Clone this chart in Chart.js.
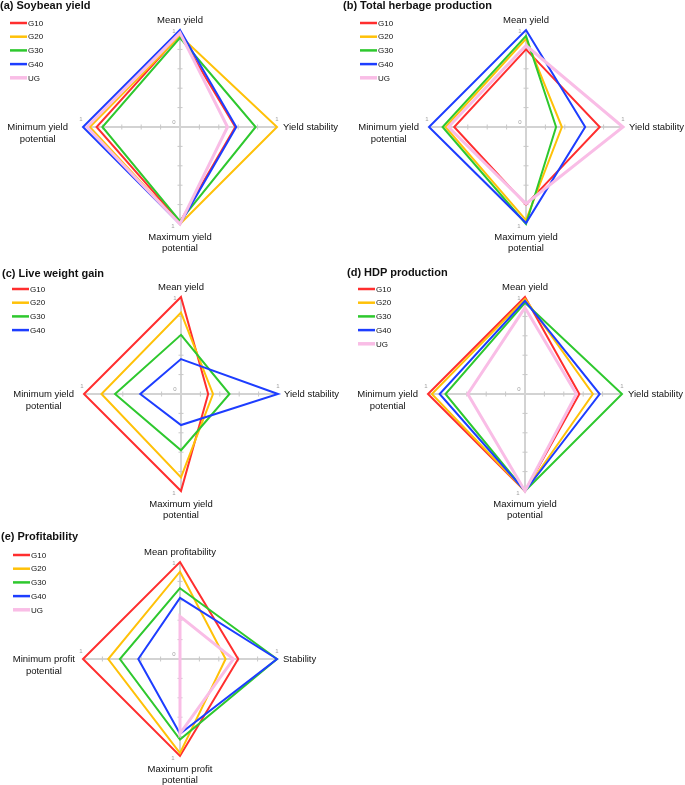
<!DOCTYPE html>
<html>
<head>
<meta charset="utf-8">
<script src="https://cdn.jsdelivr.net/npm/chart.js@4.4.1/dist/chart.umd.min.js"></script>
<style>
  body { margin: 0; background: #fff; }
  #wrap { position: relative; width: 685px; height: 785px; font-family: "Liberation Sans", Arial, sans-serif; overflow: hidden; }
  .panel { position: absolute; }
  .panel canvas { position: absolute; left: 0; top: 0; }
  .title { position: absolute; font-weight: bold; font-size: 11px; line-height: 12px; white-space: nowrap; color: #111; }
</style>
</head>
<body>
<div id="wrap"></div>
<script>
var groups = ["G10", "G20", "G30", "G40", "UG"];
var groupColors = ["#ff2e2e", "#ffc108", "#2ec82e", "#1d3dff", "#f9bde6"];
var yieldAxes = ["Mean yield", "Yield stability", ["Maximum yield", "potential"], ["Minimum yield", "potential"]];
var profitAxes = ["Mean profitability", "Stability", ["Maximum profit", "potential"], ["Minimum profit", "potential"]];
var tickValues = [0.2, 0.4, 0.6, 0.8];
var endLabels = ["0", "1"];

// rows follow groups, columns: top, right, bottom, left
var soybeanYield = [
  [0.95, 0.57, 0.98, 0.86],
  [0.94, 1.00, 1.00, 0.93],
  [0.92, 0.78, 0.97, 0.80],
  [1.00, 0.58, 1.00, 1.00],
  [0.97, 0.49, 1.00, 0.96]
];
var herbageProduction = [
  [0.80, 0.76, 0.80, 0.74],
  [0.91, 0.37, 0.96, 0.83],
  [0.94, 0.31, 1.00, 0.86],
  [1.00, 0.61, 0.99, 1.00],
  [0.84, 1.00, 0.79, 0.80]
];
var liveWeightGain = [
  [1.00, 0.28, 1.00, 1.00],
  [0.84, 0.33, 0.86, 0.82],
  [0.61, 0.50, 0.58, 0.68],
  [0.36, 1.00, 0.32, 0.42]
];
var hdpProduction = [
  [1.00, 0.56, 1.00, 1.00],
  [0.98, 0.70, 1.00, 0.96],
  [0.94, 1.00, 1.00, 0.82],
  [0.96, 0.77, 1.00, 0.88],
  [0.89, 0.53, 1.00, 0.59]
];
var profitability = [
  [1.00, 0.60, 1.00, 1.00],
  [0.90, 0.47, 0.97, 0.74],
  [0.73, 1.00, 0.83, 0.62],
  [0.63, 1.00, 0.77, 0.43],
  [0.44, 0.55, 0.77, 0.00]
];

var R = 97;
var panels = [
  { title: "(a) Soybean yield", values: soybeanYield, axes: yieldAxes,
    left: 0, top: 0, w: 340, h: 268, cx: 180, cy: 127, tx: 0, ty: -1, legX: 10, legY: 23, gap: 15 },
  { title: "(b) Total herbage production", values: herbageProduction, axes: yieldAxes,
    left: 340, top: 0, w: 345, h: 268, cx: 186, cy: 127, tx: 3, ty: -1, legX: 20, legY: 23, gap: 10 },
  { title: "(c) Live weight gain", values: liveWeightGain, axes: yieldAxes,
    left: 0, top: 260, w: 340, h: 268, cx: 181, cy: 134, tx: 2, ty: 7, legX: 12, legY: 29, gap: 10 },
  { title: "(d) HDP production", values: hdpProduction, axes: yieldAxes,
    left: 340, top: 260, w: 345, h: 268, cx: 185, cy: 134, tx: 7, ty: 6, legX: 18, legY: 29, gap: 10 },
  { title: "(e) Profitability", values: profitability, axes: profitAxes,
    left: 0, top: 520, w: 340, h: 265, cx: 180, cy: 139, tx: 1, ty: 10, legX: 13, legY: 35, gap: 8 }
];

var decorPlugin = {
  id: 'decor',
  beforeDatasetsDraw: function (chart) {
    var r = chart.scales.r, ctx = chart.ctx;
    var n = chart.data.labels.length;
    ctx.save();
    ctx.strokeStyle = '#c8c8c8';
    ctx.lineWidth = 1;
    for (var i = 0; i < n; i++) {
      tickValues.forEach(function (v) {
        var p = r.getPointPositionForValue(i, v);
        var nx = -Math.sin(p.angle) * 2.5, ny = Math.cos(p.angle) * 2.5;
        ctx.beginPath();
        ctx.moveTo(p.x - nx, p.y - ny);
        ctx.lineTo(p.x + nx, p.y + ny);
        ctx.stroke();
      });
    }
    ctx.fillStyle = '#a0a0a0';
    ctx.font = '6px "Liberation Sans", Arial, sans-serif';
    ctx.textAlign = 'center';
    ctx.textBaseline = 'middle';
    ctx.fillText(endLabels[0], r.xCenter - 6, r.yCenter - 5);
    var offs = [[-6, 1], [0, -8], [-7, 2], [-2, -8]];
    for (var j = 0; j < n; j++) {
      var e = r.getPointPositionForValue(j, 1);
      ctx.fillText(endLabels[1], e.x + offs[j][0], e.y + offs[j][1]);
    }
    ctx.restore();
  },
  afterDatasetsDraw: function (chart, args, opts) {
    var r = chart.scales.r, ctx = chart.ctx;
    var L = chart.data.labels;
    ctx.save();
    ctx.fillStyle = '#111';
    ctx.font = '9.5px "Liberation Sans", Arial, sans-serif';
    ctx.textBaseline = 'middle';

    var p = r.getPointPositionForValue(0, 1);
    ctx.textAlign = 'center';
    ctx.fillText(L[0], p.x, p.y - 10);

    p = r.getPointPositionForValue(1, 1);
    ctx.textAlign = 'left';
    ctx.fillText(L[1], p.x + 6, p.y);

    p = r.getPointPositionForValue(2, 1);
    ctx.textAlign = 'center';
    ctx.fillText(L[2][0], p.x, p.y + 13);
    ctx.fillText(L[2][1], p.x, p.y + 24.5);

    p = r.getPointPositionForValue(3, 1);
    var mw = Math.max(ctx.measureText(L[3][0]).width, ctx.measureText(L[3][1]).width);
    var lx = p.x - opts.gap - mw / 2;
    ctx.fillText(L[3][0], lx, p.y);
    ctx.fillText(L[3][1], lx, p.y + 12);

    // legend
    ctx.font = '8px "Liberation Sans", Arial, sans-serif';
    ctx.textAlign = 'left';
    chart.data.datasets.forEach(function (ds, k) {
      var y = opts.legY + k * 13.7;
      ctx.strokeStyle = ds.borderColor;
      ctx.lineWidth = ds.borderWidth + 0.5;
      ctx.beginPath();
      ctx.moveTo(opts.legX, y);
      ctx.lineTo(opts.legX + 17, y);
      ctx.stroke();
      ctx.fillStyle = '#111';
      ctx.fillText(ds.label, opts.legX + 18, y + 0.5);
    });
    ctx.restore();
  }
};

var wrap = document.getElementById('wrap');
panels.forEach(function (pn) {
  var div = document.createElement('div');
  div.className = 'panel';
  div.style.left = pn.left + 'px';
  div.style.top = pn.top + 'px';
  div.style.width = pn.w + 'px';
  div.style.height = pn.h + 'px';
  var cv = document.createElement('canvas');
  cv.width = pn.w; cv.height = pn.h;
  cv.style.width = pn.w + 'px'; cv.style.height = pn.h + 'px';
  div.appendChild(cv);
  var t = document.createElement('div');
  t.className = 'title';
  t.style.left = pn.tx + 'px';
  t.style.top = pn.ty + 'px';
  t.textContent = pn.title;
  div.appendChild(t);
  wrap.appendChild(div);

  var datasets = pn.values.map(function (vals, i) {
    return {
      label: groups[i],
      data: vals,
      borderColor: groupColors[i],
      backgroundColor: groupColors[i],
      borderWidth: groups[i] === 'UG' ? 3 : 2,
      fill: false,
      pointRadius: 0,
      order: pn.values.length - i
    };
  });

  new Chart(cv, {
    type: 'radar',
    data: { labels: pn.axes, datasets: datasets },
    options: {
      responsive: false,
      animation: false,
      devicePixelRatio: 1,
      layout: { padding: { left: pn.cx - R, right: pn.w - pn.cx - R, top: pn.cy - R, bottom: pn.h - pn.cy - R } },
      elements: { line: { tension: 0 } },
      scales: {
        r: {
          min: 0, max: 1,
          ticks: { display: false, stepSize: 0.2 },
          grid: { display: false },
          angleLines: { display: true, color: '#d3d3d3', lineWidth: 2 },
          pointLabels: { display: false }
        }
      },
      plugins: {
        legend: { display: false },
        tooltip: { enabled: false },
        decor: { legX: pn.legX, legY: pn.legY, gap: pn.gap }
      }
    },
    plugins: [decorPlugin]
  });
});
</script>
</body>
</html>
